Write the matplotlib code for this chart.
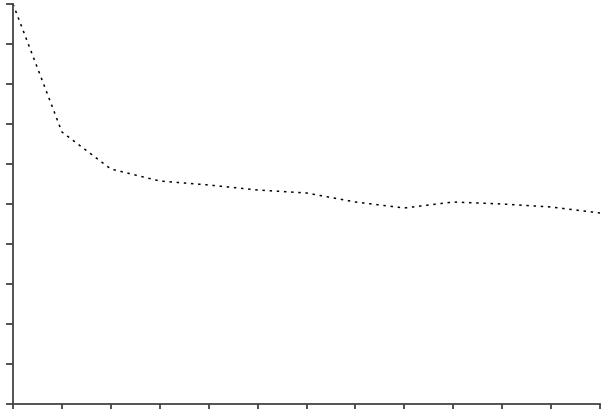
import matplotlib
matplotlib.use("Agg")
import matplotlib.pyplot as plt

# values (y axis 0..100, 13 evenly spaced x positions)
x_pos = list(range(13))
values = [100, 68, 58.75, 55.75, 54.75, 53.5, 52.75, 50.5, 49, 50.5, 50, 49.25, 47.75]
y_ticks = [0, 10, 20, 30, 40, 50, 60, 70, 80, 90, 100]

fig = plt.figure(figsize=(6.02, 4.10), dpi=100)
ax = fig.add_axes([13 / 602, 5 / 410, 587 / 602, 400 / 410])

ax.plot(x_pos, values, color="black", linewidth=1.1, linestyle=(0, (1.6, 3.1)))

ax.set_xlim(0, 12)
ax.set_ylim(0, 100)
ax.set_xticks(x_pos)
ax.set_yticks(y_ticks)
ax.set_xticklabels([])
ax.set_yticklabels([])
ax.tick_params(direction="out", length=5, width=1.2, color="#333333")

for side in ("top", "right"):
    ax.spines[side].set_visible(False)
for side in ("left", "bottom"):
    ax.spines[side].set_color("#444444")
    ax.spines[side].set_linewidth(1.3)

fig.savefig("out.png", dpi=100)
